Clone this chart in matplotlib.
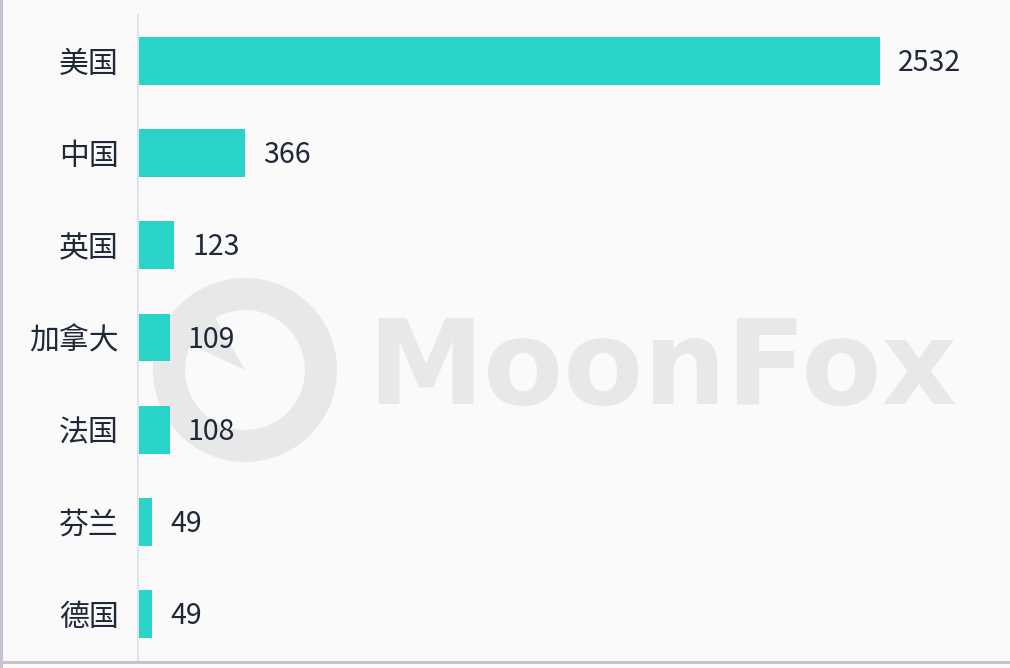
import matplotlib
matplotlib.use("Agg")
import matplotlib.pyplot as plt
from matplotlib.patches import Wedge, Rectangle

plt.rcParams['font.family'] = ['Noto Sans CJK SC', 'DejaVu Sans']

countries = ["美国", "中国", "英国", "加拿大", "法国", "芬兰", "德国"]
counts = [2532, 366, 123, 109, 108, 49, 49]

W, H = 1010, 668
fig = plt.figure(figsize=(W / 100, H / 100), dpi=100)
fig.patch.set_facecolor("#fafafa")

# overlay in pixel coordinates for border + watermark
bg = fig.add_axes([0, 0, 1, 1])
bg.set_xlim(0, W)
bg.set_ylim(H, 0)
bg.axis("off")
bg.add_patch(Rectangle((0, 0), 3, H, color="#c8bfd0", lw=0))
bg.add_patch(Rectangle((0, 661), W, 3, color="#c8bfd0", lw=0))
bg.add_patch(Wedge((245, 370), 92, 0, 360, width=32, color="#e8e8e8", lw=0))
bg.add_patch(Wedge((245, 370), 92, 205, 240, width=92, color="#e8e8e8", lw=0))
bg.text(662, 372, "MoonFox", fontsize=84, fontweight="bold",
        color="#e8e8e8", ha="center", va="center", family="DejaVu Sans")

ax = fig.add_axes([138 / W, 1 - 660 / H, 842 / W, 645 / H])
ax.set_facecolor("none")

y = list(range(len(countries)))
ax.barh(y, counts, height=0.52, color="#2ad3c7", zorder=2)
ax.set_xlim(0, 2532 * 842 / 742)
ax.set_ylim(len(countries) - 0.5, -0.5)

for yi, v in zip(y, counts):
    ax.annotate(str(v), (v, yi), xytext=(13, -1.5), textcoords="offset points",
                va="center", ha="left", fontsize=20.5, color="#1e2838")

ax.set_yticks(y)
ax.set_yticklabels(countries, fontsize=21.5, color="#1e2838")
ax.tick_params(axis="y", length=0, pad=14)
ax.set_xticks([])
for s in ["top", "right", "bottom"]:
    ax.spines[s].set_visible(False)
ax.spines["left"].set_color("#dce3ec")
ax.spines["left"].set_linewidth(1.5)

fig.savefig("out.png", dpi=100, facecolor=fig.get_facecolor())
